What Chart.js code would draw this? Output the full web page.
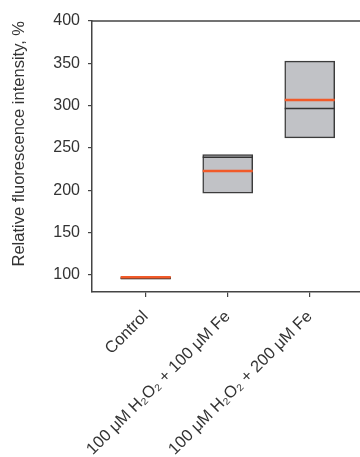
<!DOCTYPE html>
<html>
<head>
<meta charset="utf-8">
<script src="https://cdn.jsdelivr.net/npm/chart.js@4"></script>
<style>
  html, body { margin: 0; padding: 0; background: #fff; }
  #wrap { width: 360px; height: 457px; }
</style>
</head>
<body>
<div id="wrap"><canvas id="boxChart"></canvas></div>
<script>
// data
const groups = ["Control", "100 μM H₂O₂ + 100 μM Fe", "100 μM H₂O₂ + 200 μM Fe"];
const groupPos = [1, 2, 3];
const boxLow = [95.3, 196.7, 262];
const boxHigh = [97.8, 242.4, 352.7];
const medians = [96, 239.2, 296.8];
const means = [97.3, 223, 306.6];
const yTicks = [100, 150, 200, 250, 300, 350, 400];

const halfBox = 0.305; // half of box width in x units

// build line segments (null breaks between groups)
function segments(values) {
	const pts = [];
	values.forEach(function(v, i) {
		pts.push({ x: groupPos[i] - halfBox, y: v });
		pts.push({ x: groupPos[i] + halfBox, y: v });
		pts.push({ x: groupPos[i] + halfBox, y: null });
	});
	return pts;
}

// top border of the frame
const framePlugin = {
	id: 'frame',
	afterDraw(chart) {
		const a = chart.chartArea;
		const ctx = chart.ctx;
		ctx.save();
		ctx.strokeStyle = '#444';
		ctx.lineWidth = 1.5;
		ctx.beginPath();
		ctx.moveTo(a.left, a.top);
		ctx.lineTo(a.right, a.top);
		ctx.stroke();
		ctx.restore();
	}
};

const ctx = document.getElementById('boxChart').getContext('2d');
new Chart(ctx, {
	type: 'bar',
	data: {
		datasets: [{
			type: 'line',
			label: 'Mean',
			data: segments(means),
			borderColor: '#f15a29',
			borderWidth: 2.5,
			pointRadius: 0,
			spanGaps: false,
			order: 1
		}, {
			type: 'line',
			label: 'Median',
			data: segments(medians),
			borderColor: '#333333',
			borderWidth: 1.5,
			pointRadius: 0,
			spanGaps: false,
			order: 2
		}, {
			type: 'bar',
			label: 'Box',
			data: groupPos.map(function(p, i) { return { x: p, y: [boxLow[i], boxHigh[i]] }; }),
			backgroundColor: '#c1c2c6',
			borderColor: '#3c3c3c',
			borderWidth: 1.5,
			borderSkipped: false,
			barThickness: 50,
			order: 3
		}]
	},
	options: {
		responsive: true,
		maintainAspectRatio: false,
		animation: false,
		layout: { padding: { top: 21, right: 0, left: 0, bottom: 0 } },
		plugins: {
			legend: { display: false },
			tooltip: { enabled: false }
		},
		scales: {
			x: {
				type: 'linear',
				offset: false,
				min: 0.345,
				max: 3.613,
				afterBuildTicks: function(scale) {
					scale.ticks = groupPos.map(function(v) { return { value: v }; });
				},
				afterFit: function(scale) { scale.height = 165; },
				grid: { offset: false, drawOnChartArea: false, drawTicks: true, tickLength: 5, color: '#444', lineWidth: 1.2 },
				border: { color: '#444', width: 1.5 },
				ticks: {
					autoSkip: false,
					minRotation: 45,
					maxRotation: 45,
					padding: 10,
					color: '#333',
					font: { family: 'Liberation Sans, Arial, sans-serif', size: 16.5 },
					callback: function(v) {
						const i = groupPos.indexOf(v);
						return i >= 0 ? groups[i] : '';
					}
				}
			},
			y: {
				min: 80,
				max: 400,
				afterBuildTicks: function(scale) {
					scale.ticks = yTicks.map(function(v) { return { value: v }; });
				},
				afterFit: function(scale) { scale.width = 92; },
				grid: { drawOnChartArea: false, drawTicks: true, tickLength: 4, color: '#444', lineWidth: 1.2 },
				border: { color: '#444', width: 1.5 },
				ticks: {
					padding: 8,
					color: '#333',
					font: { family: 'Liberation Sans, Arial, sans-serif', size: 16 }
				},
				title: {
					display: true,
					text: 'Relative fluorescence intensity, %',
					align: 'end',
					color: '#333',
					padding: { top: 10, bottom: 0 },
					font: { family: 'Liberation Sans, Arial, sans-serif', size: 16.5 }
				}
			}
		}
	},
	plugins: [framePlugin]
});
</script>
</body>
</html>
